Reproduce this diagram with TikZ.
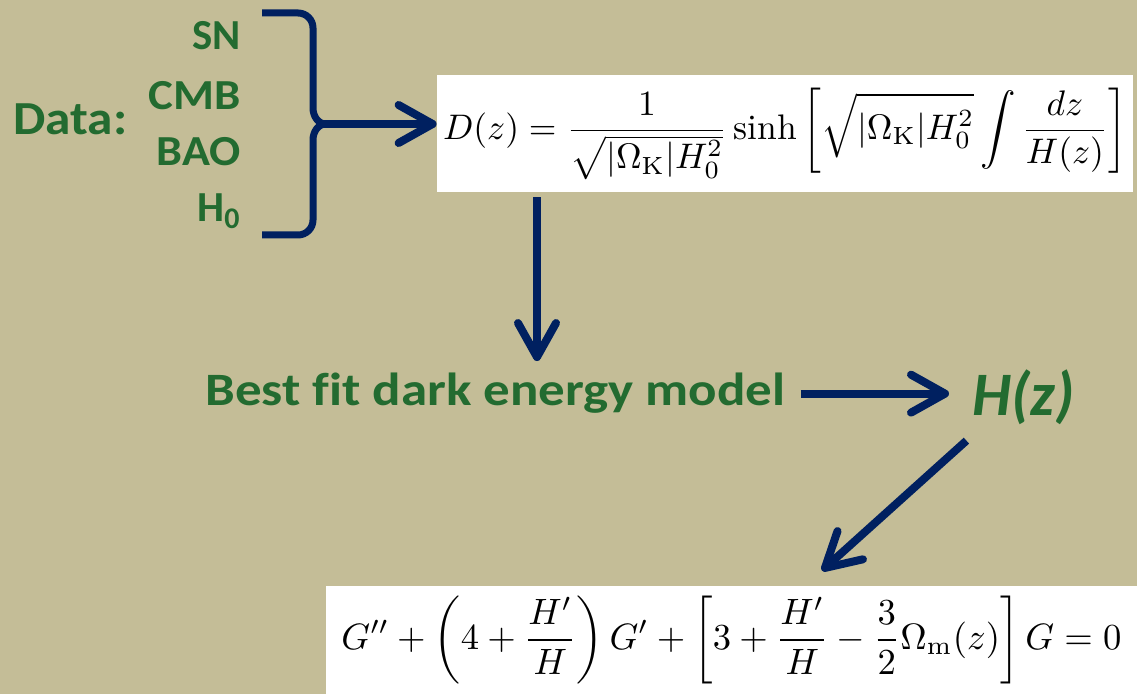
\documentclass[tikz,border=0pt]{standalone}
\usepackage{fontspec}
\usepackage{graphicx}
\newfontfamily\carlito[Ligatures=CommonOff]{Carlito}
\usetikzlibrary{calc,positioning,arrows.meta}
\definecolor{tanbg}{HTML}{C4BD97}
\definecolor{navy}{HTML}{002060}
\definecolor{darkgreen}{HTML}{236B30}
\newcommand{\fitwide}[2]{\resizebox{#1}{\height}{#2}}
\tikzset{
   item text/.style={ text=darkgreen, inner sep=0pt, anchor=base east, font=\carlito\bfseries\fontsize{21.4}{24}\selectfont},
   head text/.style={ text=darkgreen, inner sep=0pt, anchor=base west, font=\carlito\bfseries\fontsize{23.2}{26}\selectfont},
   eq box/.style={ rectangle, fill=white, inner sep=0pt, text centered},
   brace line/.style={ draw=navy, line width=3.5pt},
   flow/.style={ draw=navy, line width=4pt},
   >={Straight Barb[length=17pt,width=19pt,round]}
}

\begin{document}
\begin{tikzpicture}[x=0.5pt,y=-0.5pt]

  \useasboundingbox (0,0) rectangle (1137,694);
  \fill[tanbg] (0,0) rectangle (1137,694);

  %% Data column
  \node[head text, font=\carlito\bfseries\fontsize{23.7}{26}\selectfont] at (13,135) (data) {\fitwide{57pt}{Data:}};
  \node[item text] at (241,50)  (sn)    {SN};
  \node[item text] at (241,110) (cmb)   {\fitwide{46pt}{CMB}};
  \node[item text] at (241,166) (bao)   {\fitwide{42pt}{BAO}};
  \node[item text] at (241,222) (hnull) {H\textsubscript{0}};

  %% Bracket
  \draw[brace line] (262,13) -- (298,13) to[out=0,in=90] (313,28) -- (313,108) to[out=270,in=180] (326,124)
    to[out=180,in=90] (313,140) -- (313,220) to[out=270,in=0] (298,235) -- (262,235);
  \coordinate (cusp) at (324,124);

  \node[eq box, minimum width=348pt, minimum height=58.5pt] at (785,133.5) (dist)
    {\resizebox{342pt}{!}{$\displaystyle D(z)=\frac{1}{\sqrt{|\Omega_{\rm K}|H_0^2}}\sinh\left[\sqrt{|\Omega_{\rm K}|H_0^2}\int\frac{dz}{H(z)}\right]$}};

  \node[head text] at (205,406) (bestfit) {\fitwide{290pt}{Best fit dark energy model}};
  \node[head text, font=\carlito\bfseries\itshape\fontsize{30.9}{34}\selectfont] at (972,416) (hz) {H(z)};

  \node[eq box, minimum width=405.5pt, minimum height=54pt] at (731.5,640) (growth)
    {\resizebox{390pt}{!}{$\displaystyle G''+\left(4+\frac{H'}{H}\right)G'+\left[3+\frac{H'}{H}-\frac{3}{2}\Omega_{\rm m}(z)\right]G=0$}};

  \coordinate (vx) at (537,0);

  \draw[flow,->] (cusp) -- (cusp -| dist.west);
  \draw[flow,->,shorten <=2.5pt,shorten >=6pt] (dist.south -| vx) -- (bestfit.north -| vx);
  \draw[flow,->,shorten <=7.5pt,shorten >=11.5pt] (bestfit.east) -- (bestfit.east -| hz.west);
  \draw[flow,->] ($(hz.south)+(-57,15)$) -- ($(growth.north)+(90.5,-15)$);

\end{tikzpicture}
\end{document}
